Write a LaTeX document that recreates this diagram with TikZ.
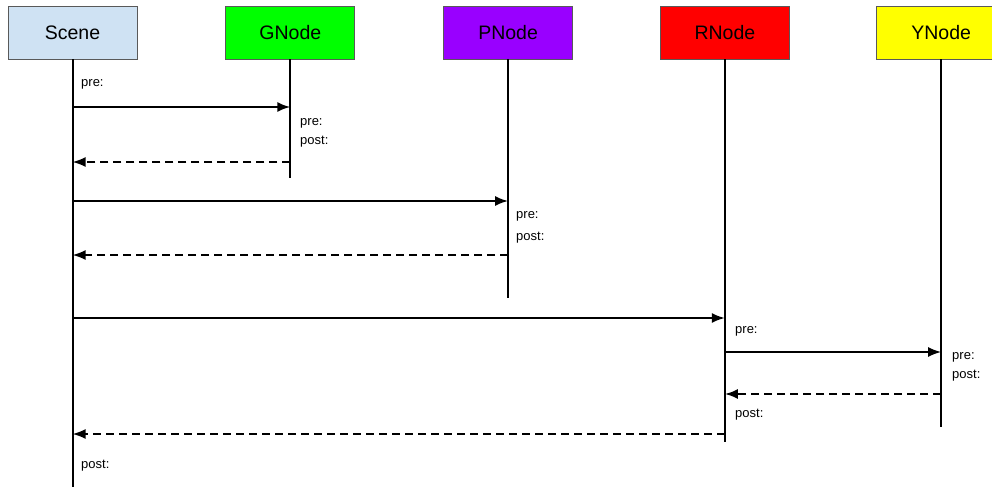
\documentclass[tikz,border=0pt]{standalone}
\usepackage{fontspec}
\setmainfont{Liberation Sans}
\usepackage{tikz}
\usetikzlibrary{arrows.meta,positioning}
\definecolor{ink}{HTML}{000000}
\definecolor{boxline}{HTML}{595959}
\definecolor{scenebg}{HTML}{CFE2F3}
\definecolor{gbg}{HTML}{00FF00}
\definecolor{pbg}{HTML}{9900FF}
\definecolor{rbg}{HTML}{FF0000}
\definecolor{ybg}{HTML}{FFFF00}
\tikzset{
  >={Latex[length=13pt,width=10pt]},
  every node/.style={text=ink},
  lifebox/.style={draw=boxline,line width=0.8pt,minimum width=129pt,minimum height=53pt,inner sep=0pt,font=\fontsize{19.5}{22}\selectfont},
  lifeline/.style={draw=ink,line width=2pt},
  callarr/.style={->,line width=2pt,draw=ink},
  retarr/.style={->,line width=2pt,draw=ink,dash pattern=on 8pt off 5pt},
  note/.style={anchor=west,inner sep=0pt,font=\fontsize{13}{15}\selectfont}
}
\begin{document}
\begin{tikzpicture}[x=1pt,y=-1pt,node distance=88pt]
  \useasboundingbox[fill=white] (0,0) rectangle (992,487);

  % participants
  \node[lifebox,fill=scenebg] (scene) at (72.5,32.5) {Scene};
  \node[lifebox,fill=gbg,right=of scene] (gnode) {GNode};
  \node[lifebox,fill=pbg,right=of gnode] (pnode) {PNode};
  \node[lifebox,fill=rbg,right=87pt of pnode] (rnode) {RNode};
  \node[lifebox,fill=ybg,right=86.5pt of rnode] (ynode) {YNode};

  % lifeline ends
  \coordinate (sceneend) at (scene |- 0,487);
  \coordinate (gend) at (gnode |- 0,178);
  \coordinate (pend) at (pnode |- 0,298);
  \coordinate (rend) at (rnode |- 0,442);
  \coordinate (yend) at (ynode |- 0,427);
  \draw[lifeline] (scene.south) -- (sceneend);
  \draw[lifeline] (gnode.south) -- (gend);
  \draw[lifeline] (pnode.south) -- (pend);
  \draw[lifeline] (rnode.south) -- (rend);
  \draw[lifeline] (ynode.south) -- (yend);

  % message levels
  \coordinate (m1) at (0,107);
  \coordinate (m2) at (0,162);
  \coordinate (m3) at (0,201);
  \coordinate (m4) at (0,255);
  \coordinate (m5) at (0,318);
  \coordinate (m6) at (0,352);
  \coordinate (m7) at (0,394);
  \coordinate (m8) at (0,434);

  \draw[callarr] (scene |- m1) -- (gnode |- m1);
  \draw[retarr] (gnode |- m2) -- (scene |- m2);
  \draw[callarr] (scene |- m3) -- (pnode |- m3);
  \draw[retarr] (pnode |- m4) -- (scene |- m4);
  \draw[callarr] (scene |- m5) -- (rnode |- m5);
  \draw[callarr] (rnode |- m6) -- (ynode |- m6);
  \draw[retarr] (ynode |- m7) -- (rnode |- m7);
  \draw[retarr] (rnode |- m8) -- (scene |- m8);

  % notes
  \node[note] (spre) at (81,84) {pre:};
  \node[note] (gpre) at (300,123) {pre:};
  \node[note] (gpost) at (300,142) {post:};
  \node[note] (ppre) at (516,216) {pre:};
  \node[note] (ppost) at (516,238) {post:};
  \node[note] (rpre) at (735,331) {pre:};
  \node[note] (ypre) at (952,357) {pre:};
  \node[note] (ypost) at (952,376) {post:};
  \node[note] (rpost) at (735,415) {post:};
  \node[note] (spost) at (81,466) {post:};
\end{tikzpicture}
\end{document}
